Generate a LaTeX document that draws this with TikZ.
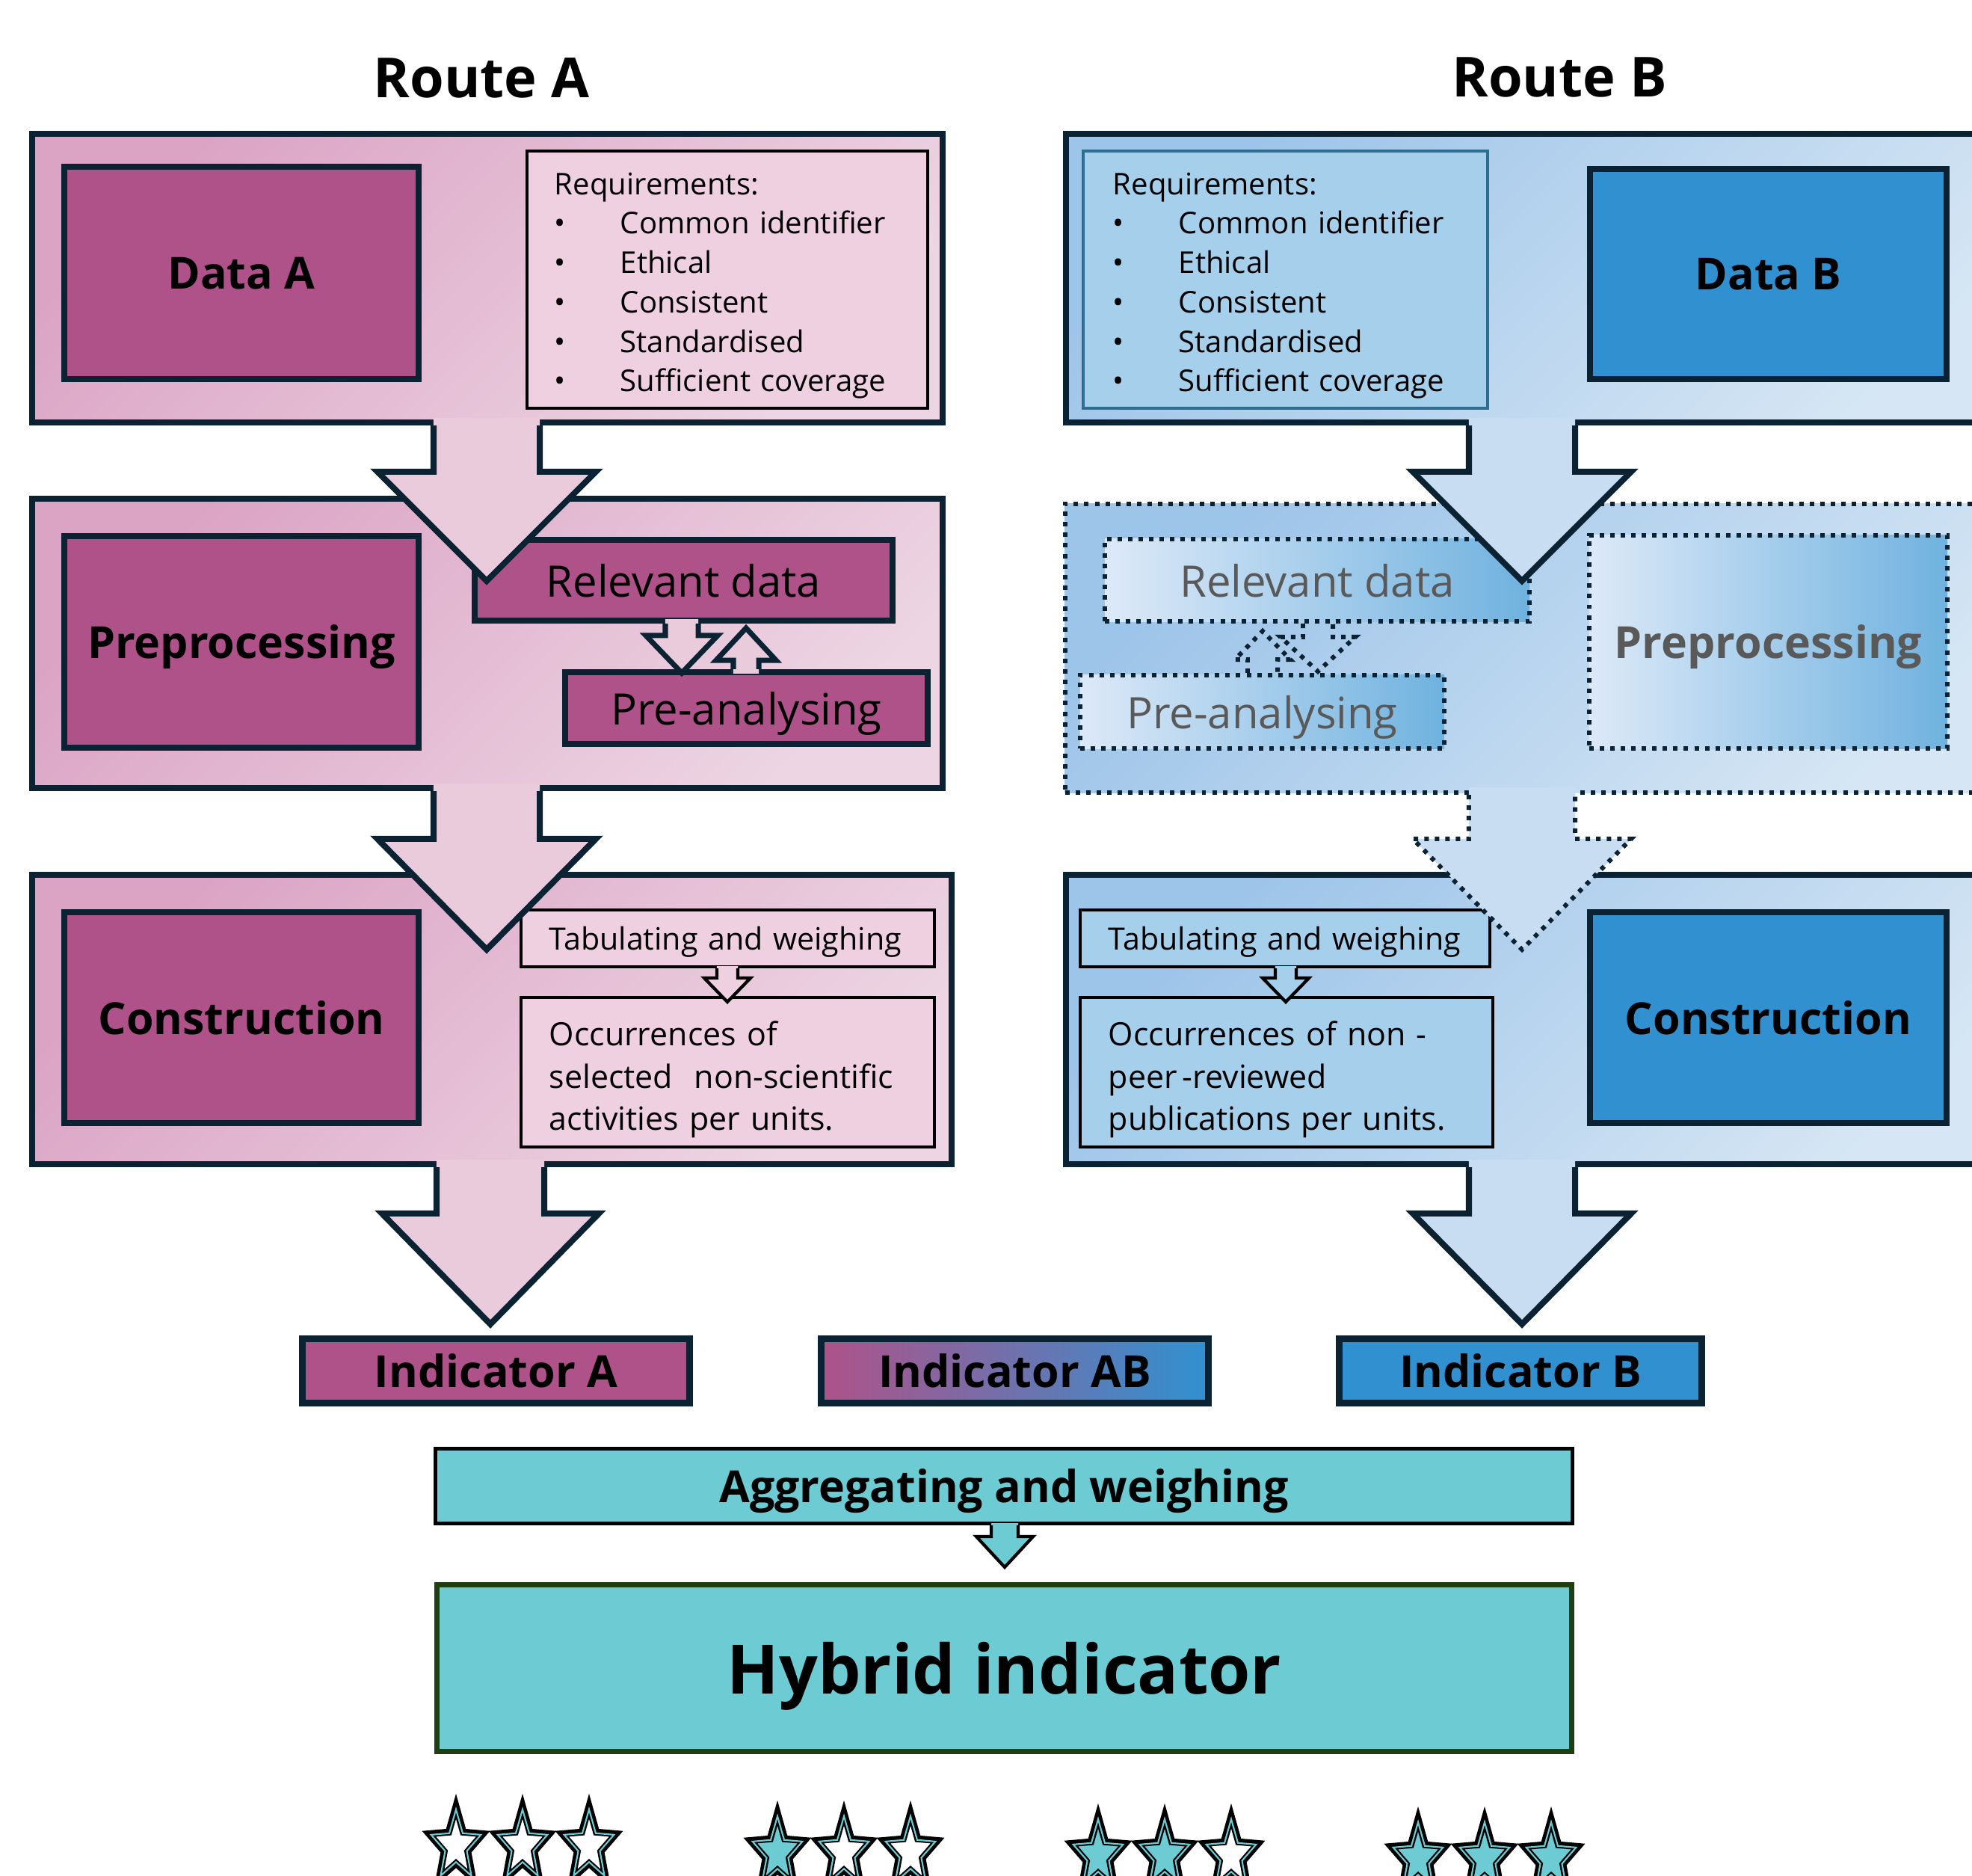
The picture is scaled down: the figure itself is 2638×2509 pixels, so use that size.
\documentclass[tikz,border=0pt]{standalone}
\usepackage{fontspec}
\setmainfont{Open Sans}
\usepackage{tikz}
\usetikzlibrary{calc}
\usetikzlibrary{shapes.geometric}
\usepackage{xcolor}

\definecolor{navy}{HTML}{0B2233}
\definecolor{plum}{HTML}{AE5289}
\definecolor{pinkdark}{HTML}{DBA4C5}
\definecolor{pinklight}{HTML}{EDD5E3}
\definecolor{pinkbox}{HTML}{EFD0E1}
\definecolor{pinkarrow}{HTML}{E9CBDB}
\definecolor{azure}{HTML}{3191D0}
\definecolor{skydark}{HTML}{9DC4E9}
\definecolor{skylight}{HTML}{D6E6F4}
\definecolor{skybox}{HTML}{A5CFEA}
\definecolor{skyarrow}{HTML}{C8DDF1}
\definecolor{skyedge}{HTML}{2C6E91}
\definecolor{fadeleft}{HTML}{DDE9F8}
\definecolor{faderight}{HTML}{6FB2DF}
\definecolor{fadetext}{HTML}{595959}
\definecolor{aqua}{HTML}{6CCBD3}
\definecolor{forest}{HTML}{1F3F10}

\begin{document}
\begin{tikzpicture}[x=0.01cm,y=-0.01cm,
    panelA/.style={draw=navy,line width=2.3pt,top color=pinkdark,bottom color=pinklight,shading angle=45},
    panelB/.style={draw=navy,line width=2.3pt,top color=skydark,bottom color=skylight,shading angle=45},
    stage/.style={draw=navy,line width=2.3pt,inner sep=0pt,text depth=0pt,font=\bfseries\fontsize{16.8}{20}\selectfont},
    req/.style={line width=1.2pt,align=left,inner xsep=0.37cm,minimum height=3.44cm,font=\fontsize{11.4}{15}\selectfont},
    sub/.style={draw=navy,line width=2.3pt,fill=plum,inner sep=0pt,text depth=0pt,font=\fontsize{16.5}{20}\selectfont},
    dotborder/.style={line width=1.7pt,dash pattern=on 1.7pt off 2.3pt},
    faded/.style={draw=navy,dotborder,left color=fadeleft,right color=faderight,text=fadetext,inner sep=0pt,text depth=0pt},
    note/.style={draw=black,line width=1.2pt,align=left,inner xsep=0.38cm,inner ysep=0pt,text depth=0pt,minimum height=0.76cm,font=\fontsize{11.7}{14}\selectfont},
    occ/.style={draw=black,line width=1.2pt,align=left,inner xsep=0.38cm,minimum height=2.0cm,font=\fontsize{12.2}{16.1}\selectfont},
    indicator/.style={draw=navy,line width=2.5pt,inner sep=0pt,minimum height=0.86cm,font=\bfseries\fontsize{16.8}{20}\selectfont},
    title/.style={font=\bfseries\fontsize{21}{24}\selectfont},
    bigarrow/.style={draw=navy,line width=2.3pt},
    smallarrow/.style={draw=navy,line width=2pt},
    thinarrow/.style={draw=black,line width=1.2pt},
    starmark/.style={star,star points=5,star point ratio=2.3,minimum size=0.76cm,inner sep=0pt,transform shape}]

\def\blockarrow#1#2#3#4#5#6#7{%
  \path[#1,draw=none] let \p1=(#2), \p2=(#3) in
    (\x1-#4,\y1+#7) -- (\x1-#4,\y2+#6) -- (\x1-#5,\y2+#6) -- (\x2,\y2)
    -- (\x1+#5,\y2+#6) -- (\x1+#4,\y2+#6) -- (\x1+#4,\y1+#7) -- cycle;
  \path[#1,fill=none] let \p1=(#2), \p2=(#3) in
    (\x1-#4,\y1) -- (\x1-#4,\y2+#6) -- (\x1-#5,\y2+#6) -- (\x2,\y2)
    -- (\x1+#5,\y2+#6) -- (\x1+#4,\y2+#6) -- (\x1+#4,\y1);}
\def\bul{\makebox[25pt][l]{\textbullet}}

\fill[white] (0,0) rectangle (2638,2509);
\useasboundingbox (0,0) rectangle (2638,2509);
\clip (0,0) rectangle (2638,2509);

\node[title] (routeA) at (644,104) {Route A};
\node[title] (routeB) at (2086,104) {Route B};

% route A
\node[panelA,minimum width=12.18cm,minimum height=3.86cm] (panA1) at (652,372) {};
\node[panelA,minimum width=12.18cm,minimum height=3.87cm] (panA2) at (652,860.5) {};
\node[panelA,minimum width=12.30cm,minimum height=3.87cm] (panA3) at (658,1363.5) {};
\node[stage,fill=plum,minimum width=4.74cm,minimum height=2.84cm] (dataA) at (323,365) {Data A};
\node[stage,fill=plum,minimum width=4.74cm,minimum height=2.83cm] (prepA) at (323,858.5) {Preprocessing};
\node[stage,fill=plum,minimum width=4.74cm,minimum height=2.82cm] (consA) at (323,1361) {Construction};
\node[req,draw=black,fill=pinkbox,text width=4.62cm] (reqA) at (973,374)
  {\rule{0pt}{13pt}Requirements:\\\bul Common identifier\\\bul Ethical\\\bul Consistent\\\bul Standardised\\\bul Sufficient coverage};
\node[sub,minimum width=5.59cm,minimum height=1.08cm] (relA) at (914.5,776) {Relevant data};
\node[sub,minimum width=4.85cm,minimum height=0.96cm] (preA) at (998.5,947) {Pre-analysing};
\node[note,fill=pinkbox,text width=4.77cm] (tabA) at (973.5,1255) {Tabulating and weighing};
\node[occ,fill=pinkbox,text width=4.77cm] (occA) at (973.5,1434)
  {\rule{0pt}{15pt}Occurrences of\\selected\ \ non-scientific\\activities per units.};

% route B
\node[panelB,minimum width=12.90cm,minimum height=3.86cm] (panB1) at (2071,372) {};
\node[panelB,dotborder,minimum width=12.92cm,minimum height=3.86cm] (panB2) at (2071,867) {};
\node[panelB,minimum width=12.90cm,minimum height=3.87cm] (panB3) at (2071,1363.5) {};
\node[stage,fill=azure,minimum width=4.77cm,minimum height=2.81cm] (dataB) at (2365.5,366.5) {Data B};
\node[faded,font=\bfseries\fontsize{16.8}{20}\selectfont,minimum width=4.79cm,minimum height=2.85cm] (prepB) at (2365.5,858.5) {Preprocessing};
\node[stage,fill=azure,minimum width=4.77cm,minimum height=2.82cm] (consB) at (2365.5,1361) {Construction};
\node[req,draw=skyedge,fill=skybox,inner xsep=0.40cm,text width=4.61cm] (reqB) at (1719.5,374)
  {\rule{0pt}{13pt}Requirements:\\\bul Common identifier\\\bul Ethical\\\bul Consistent\\\bul Standardised\\\bul Sufficient coverage};
\node[faded,font=\fontsize{16.5}{20}\selectfont,minimum width=5.68cm,minimum height=1.10cm] (relB) at (1762,776) {Relevant data};
\node[faded,font=\fontsize{16.5}{20}\selectfont,minimum width=4.87cm,minimum height=0.98cm] (preB) at (1688.5,952) {Pre-analysing};
\node[note,fill=skybox,text width=4.72cm] (tabB) at (1719,1255) {Tabulating and weighing};
\node[occ,fill=skybox,text width=4.76cm] (occB) at (1721,1434)
  {\rule{0pt}{15pt}Occurrences of non -\\peer\,-reviewed\\publications per units.};

% block arrows
\coordinate (tipA1) at (651,777);
\coordinate (tipA2) at (651,1270);
\coordinate (tipA3) at (656,1771);
\coordinate (tipB1) at (2036,777);
\coordinate (tipB2) at (2036,1270);
\coordinate (tipB3) at (2036,1771);
\blockarrow{bigarrow,fill=pinkarrow}{panA1.south -| tipA1}{tipA1}{0.71cm}{1.46cm}{1.46cm}{0.1cm}
\blockarrow{bigarrow,fill=pinkarrow}{panA2.south -| tipA2}{tipA2}{0.71cm}{1.46cm}{1.48cm}{0.1cm}
\blockarrow{bigarrow,fill=pinkarrow}{panA3.south -| tipA3}{tipA3}{0.72cm}{1.45cm}{1.48cm}{0.1cm}
\blockarrow{bigarrow,fill=skyarrow}{panB1.south -| tipB1}{tipB1}{0.71cm}{1.46cm}{1.46cm}{0.1cm}
\blockarrow{bigarrow,dotborder,fill=skyarrow}{panB2.south -| tipB2}{tipB2}{0.71cm}{1.46cm}{1.48cm}{0.1cm}
\blockarrow{bigarrow,fill=skyarrow}{panB3.south -| tipB3}{tipB3}{0.71cm}{1.46cm}{1.48cm}{0.1cm}

% small arrows
\coordinate (dnA) at (912,900);
\coordinate (upA) at (998,840);
\blockarrow{smallarrow,fill=pinkarrow}{relA.south -| dnA}{dnA}{0.22cm}{0.48cm}{0.50cm}{0.06cm}
\blockarrow{smallarrow,fill=pinkarrow}{preA.north -| upA}{upA}{0.17cm}{0.40cm}{-0.43cm}{-0.06cm}
\coordinate (upB) at (1689,844);
\coordinate (dnB) at (1763,898);
\blockarrow{smallarrow,dotborder,fill=none}{preB.north -| upB}{upB}{0.20cm}{0.37cm}{-0.38cm}{-0.05cm}
\blockarrow{smallarrow,dotborder,fill=none}{relB.south -| dnB}{dnB}{0.20cm}{0.50cm}{0.46cm}{0.05cm}
\coordinate (tabtipA) at (973,1340);
\coordinate (tabtipB) at (1720,1340);
\blockarrow{thinarrow,fill=pinkbox}{tabA.south -| tabtipA}{tabtipA}{0.14cm}{0.31cm}{0.32cm}{0.03cm}
\blockarrow{thinarrow,fill=skybox}{tabB.south -| tabtipB}{tabtipB}{0.14cm}{0.31cm}{0.32cm}{0.03cm}

% indicators
\node[indicator,fill=plum,minimum width=5.18cm] (indA) at (663.5,1833.5) {Indicator A};
\node[indicator,left color=plum,right color=azure,minimum width=5.18cm] (indAB) at (1357.5,1833.5) {Indicator AB};
\node[indicator,fill=azure,minimum width=4.85cm] (indB) at (2034,1833.5) {Indicator B};
\node[draw=black,line width=1.4pt,fill=aqua,inner sep=0pt,text depth=0pt,minimum width=15.21cm,minimum height=1.0cm,
  font=\bfseries\fontsize{16.8}{20}\selectfont] (agg) at (1343,1987.5) {Aggregating and weighing};
\node[draw=forest,line width=2pt,fill=aqua,inner sep=0pt,text depth=0pt,minimum width=15.18cm,minimum height=2.23cm,
  font=\bfseries\fontsize{25.9}{30}\selectfont] (hyb) at (1343.5,2231) {Hybrid indicator};
\coordinate (aggtip) at (1344,2096);
\blockarrow{thinarrow,fill=aqua}{agg.south -| aggtip}{aggtip}{0.18cm}{0.38cm}{0.41cm}{0.03cm}

% rating stars
\foreach \g/\gx/\gy/\nf in {1/699/2469/0,2/1129/2478/1,3/1558/2482/2,4/1986/2486/3}{
  \foreach \k in {1,2,3}{
    \pgfmathsetmacro\sx{\gx+(\k-2)*89}
    \ifnum\k>\nf \def\sfill{white}\else \def\sfill{aqua}\fi
    \begin{scope}[shift={(\sx,\gy)},yscale=1.4]
      \node[starmark,draw=black,line width=2.6pt,fill=\sfill] (star\g\k) at (0,0) {};
      \node[starmark,draw=aqua,line width=0.6pt,minimum size=0.70cm] at (0,0) {};
    \end{scope}
  }
}
\end{tikzpicture}
\end{document}
